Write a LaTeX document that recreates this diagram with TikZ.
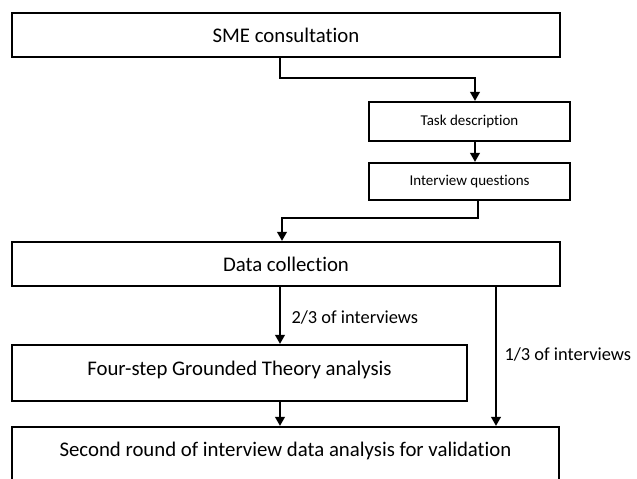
\documentclass[tikz,border=0pt]{standalone}
\usepackage{fontspec}
\setmainfont{Carlito}[Ligatures=NoCommon]
\usetikzlibrary{arrows.meta}
\begin{document}
\begin{tikzpicture}[x=1pt,y=-1pt,
  box/.style={draw, line width=2.4pt, inner sep=0pt, font=\fontsize{20.8}{24}\selectfont},
  smallbox/.style={draw, line width=2.4pt, inner sep=0pt, font=\fontsize{15}{18}\selectfont},
  conn/.style={line width=1.1pt},
  arr/.style={conn, -{Triangle[length=9pt,width=10pt]}},
  lbl/.style={font=\fontsize{18.4}{21}\selectfont, inner sep=0pt, anchor=west}]
\useasboundingbox (0,0) rectangle (637,479);
\node[box, minimum width=548pt, minimum height=44pt] (sme) at (286,35) {SME consultation};
\node[smallbox, minimum width=201pt, minimum height=39pt] (tsk) at (469.5,121.5) {Task description};
\node[smallbox, minimum width=201pt, minimum height=37pt] (iq) at (469.5,181.5) {Interview questions};
\node[box, minimum width=548pt, minimum height=44pt] (dc) at (286,264) {Data collection};
\node[box, minimum width=455pt, minimum height=56pt, text depth=10pt] (fs) at (239.5,373) {Four-step Grounded Theory analysis};
\node[box, minimum width=547pt, minimum height=58pt, text depth=14pt] (sr) at (285.5,456) {Second round of interview data analysis for validation};
\coordinate (c1) at (280,78);
\coordinate (c2) at (475,78);
\coordinate (c3) at (478,218);
\coordinate (c4) at (282,218);
\coordinate (c5) at (280,300);
\coordinate (c6) at (496,300);
\draw[arr] (sme.south -| c1) -- (c1) -- (c2) -- (tsk.north -| c2);
\draw[arr] (tsk.south -| c2) -- (iq.north -| c2);
\draw[arr] (iq.south -| c3) -- (c3) -- (c4) -- (dc.north -| c4);
\draw[arr] (dc.south -| c5) -- node[lbl, xshift=11pt, yshift=-2pt] {2/3 of interviews} (fs.north -| c5);
\draw[arr] (dc.south -| c6) -- node[lbl, xshift=8pt, yshift=2pt] {1/3 of interviews} (sr.north -| c6);
\draw[arr] (fs.south -| c5) -- (sr.north -| c5);
\end{tikzpicture}
\end{document}
